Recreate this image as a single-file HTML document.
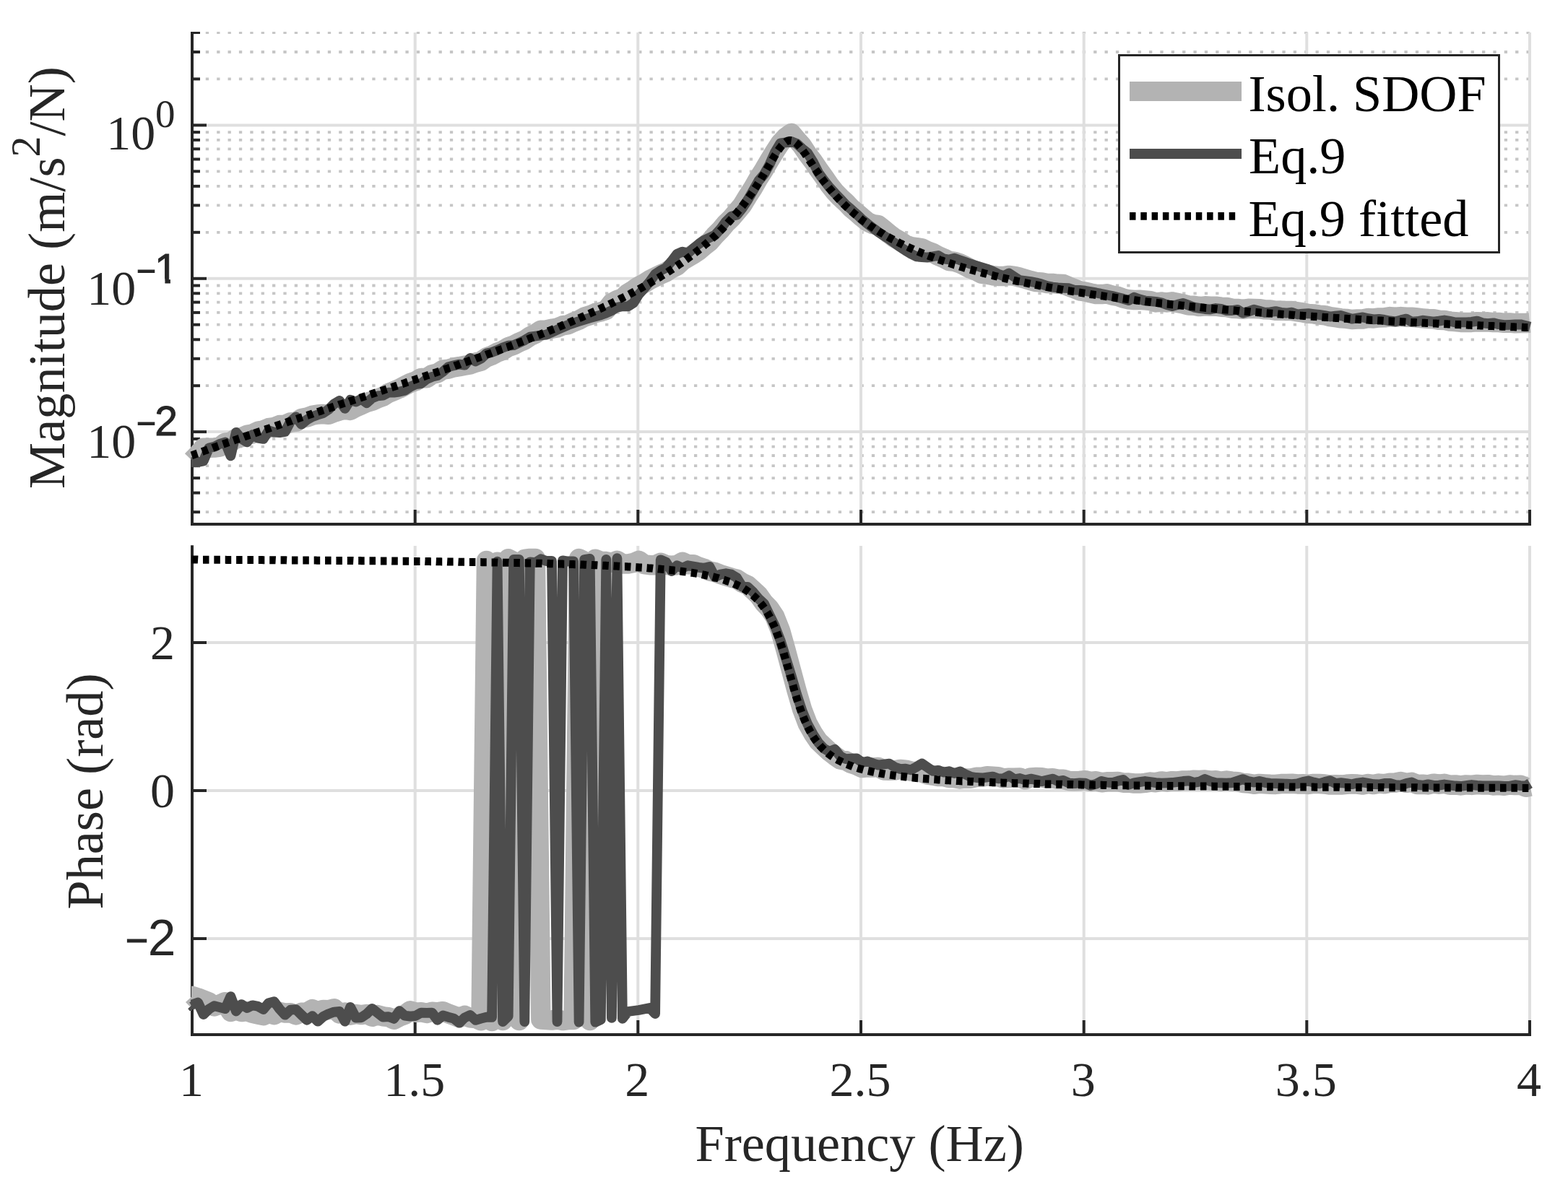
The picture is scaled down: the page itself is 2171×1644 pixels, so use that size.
<!DOCTYPE html>
<html lang="en"><head><meta charset="utf-8"><title>FRF magnitude and phase</title>
<style>html,body{margin:0;padding:0;background:#fff}svg{display:block}.t{font-family:"Liberation Serif","DejaVu Serif",serif;fill:#262626}.s{font-family:"Liberation Sans","DejaVu Sans",sans-serif;fill:#262626}.lg{font-family:"Liberation Serif","DejaVu Serif",serif;fill:#000}</style></head><body>
<svg width="2171" height="1644" viewBox="0 0 2171 1644">
<rect width="2171" height="1644" fill="#fff"/>
<g id="top-grid">
<g stroke="#c6c6c6" stroke-width="3.8" stroke-dasharray="4.3 11.067" fill="none">
<line x1="284.8" y1="709.2" x2="2120" y2="709.2"/>
<line x1="284.8" y1="682.6" x2="2120" y2="682.6"/>
<line x1="284.8" y1="662.1" x2="2120" y2="662.1"/>
<line x1="284.8" y1="645.2" x2="2120" y2="645.2"/>
<line x1="284.8" y1="631.0" x2="2120" y2="631.0"/>
<line x1="284.8" y1="618.7" x2="2120" y2="618.7"/>
<line x1="284.8" y1="607.9" x2="2120" y2="607.9"/>
<line x1="284.8" y1="534.2" x2="2120" y2="534.2"/>
<line x1="284.8" y1="496.8" x2="2120" y2="496.8"/>
<line x1="284.8" y1="470.3" x2="2120" y2="470.3"/>
<line x1="284.8" y1="449.7" x2="2120" y2="449.7"/>
<line x1="284.8" y1="432.9" x2="2120" y2="432.9"/>
<line x1="284.8" y1="418.6" x2="2120" y2="418.6"/>
<line x1="284.8" y1="406.3" x2="2120" y2="406.3"/>
<line x1="284.8" y1="395.5" x2="2120" y2="395.5"/>
<line x1="284.8" y1="321.8" x2="2120" y2="321.8"/>
<line x1="284.8" y1="284.4" x2="2120" y2="284.4"/>
<line x1="284.8" y1="257.9" x2="2120" y2="257.9"/>
<line x1="284.8" y1="237.3" x2="2120" y2="237.3"/>
<line x1="284.8" y1="220.5" x2="2120" y2="220.5"/>
<line x1="284.8" y1="206.3" x2="2120" y2="206.3"/>
<line x1="284.8" y1="193.9" x2="2120" y2="193.9"/>
<line x1="284.8" y1="183.1" x2="2120" y2="183.1"/>
<line x1="284.8" y1="109.4" x2="2120" y2="109.4"/>
<line x1="284.8" y1="72.0" x2="2120" y2="72.0"/>
<line x1="284.8" y1="45.5" x2="2120" y2="45.5" stroke-width="3"/>
</g>
<g stroke="#dfdfdf" stroke-width="4" fill="none">
<line x1="266" y1="598.1" x2="2120" y2="598.1"/>
<line x1="266" y1="385.8" x2="2120" y2="385.8"/>
<line x1="266" y1="173.4" x2="2120" y2="173.4"/>
<line x1="574.7" y1="45" x2="574.7" y2="726"/>
<line x1="883.3" y1="45" x2="883.3" y2="726"/>
<line x1="1192.0" y1="45" x2="1192.0" y2="726"/>
<line x1="1500.7" y1="45" x2="1500.7" y2="726"/>
<line x1="1809.3" y1="45" x2="1809.3" y2="726"/>
<line x1="2118.0" y1="45" x2="2118.0" y2="726"/>
</g></g>
<g id="bot-grid" stroke="#dfdfdf" stroke-width="4" fill="none">
<line x1="266" y1="890.0" x2="2120" y2="890.0"/>
<line x1="266" y1="1095.0" x2="2120" y2="1095.0"/>
<line x1="266" y1="1300.0" x2="2120" y2="1300.0"/>
<line x1="574.7" y1="756" x2="574.7" y2="1433"/>
<line x1="883.3" y1="756" x2="883.3" y2="1433"/>
<line x1="1192.0" y1="756" x2="1192.0" y2="1433"/>
<line x1="1500.7" y1="756" x2="1500.7" y2="1433"/>
<line x1="1809.3" y1="756" x2="1809.3" y2="1433"/>
<line x1="2118.0" y1="756" x2="2118.0" y2="1433"/>
</g>
<g id="top-axes">
<g stroke="#262626" stroke-width="4" fill="none" stroke-linecap="butt">
<line x1="266" y1="45.0" x2="266" y2="728.0"/>
<line x1="264" y1="726.0" x2="2120" y2="726.0"/>
<line x1="574.7" y1="726.0" x2="574.7" y2="706.0"/>
<line x1="883.3" y1="726.0" x2="883.3" y2="706.0"/>
<line x1="1192.0" y1="726.0" x2="1192.0" y2="706.0"/>
<line x1="1500.7" y1="726.0" x2="1500.7" y2="706.0"/>
<line x1="1809.3" y1="726.0" x2="1809.3" y2="706.0"/>
<line x1="2118.0" y1="726.0" x2="2118.0" y2="706.0"/>
<line x1="266" y1="598.1" x2="286" y2="598.1"/>
<line x1="266" y1="385.8" x2="286" y2="385.8"/>
<line x1="266" y1="173.4" x2="286" y2="173.4"/>
<line x1="266" y1="709.2" x2="277" y2="709.2"/>
<line x1="266" y1="682.6" x2="277" y2="682.6"/>
<line x1="266" y1="662.1" x2="277" y2="662.1"/>
<line x1="266" y1="645.2" x2="277" y2="645.2"/>
<line x1="266" y1="631.0" x2="277" y2="631.0"/>
<line x1="266" y1="618.7" x2="277" y2="618.7"/>
<line x1="266" y1="607.9" x2="277" y2="607.9"/>
<line x1="266" y1="534.2" x2="277" y2="534.2"/>
<line x1="266" y1="496.8" x2="277" y2="496.8"/>
<line x1="266" y1="470.3" x2="277" y2="470.3"/>
<line x1="266" y1="449.7" x2="277" y2="449.7"/>
<line x1="266" y1="432.9" x2="277" y2="432.9"/>
<line x1="266" y1="418.6" x2="277" y2="418.6"/>
<line x1="266" y1="406.3" x2="277" y2="406.3"/>
<line x1="266" y1="395.5" x2="277" y2="395.5"/>
<line x1="266" y1="321.8" x2="277" y2="321.8"/>
<line x1="266" y1="284.4" x2="277" y2="284.4"/>
<line x1="266" y1="257.9" x2="277" y2="257.9"/>
<line x1="266" y1="237.3" x2="277" y2="237.3"/>
<line x1="266" y1="220.5" x2="277" y2="220.5"/>
<line x1="266" y1="206.3" x2="277" y2="206.3"/>
<line x1="266" y1="193.9" x2="277" y2="193.9"/>
<line x1="266" y1="183.1" x2="277" y2="183.1"/>
<line x1="266" y1="109.4" x2="277" y2="109.4"/>
<line x1="266" y1="72.0" x2="277" y2="72.0"/>
<line x1="264" y1="45.5" x2="277" y2="45.5" stroke-width="3"/>
</g>
</g>
<g id="bot-axes">
<g stroke="#262626" stroke-width="4" fill="none" stroke-linecap="butt">
<line x1="266" y1="755.3" x2="266" y2="1435.0"/>
<line x1="264" y1="1433.0" x2="2120" y2="1433.0"/>
<line x1="574.7" y1="1433.0" x2="574.7" y2="1413.0"/>
<line x1="883.3" y1="1433.0" x2="883.3" y2="1413.0"/>
<line x1="1192.0" y1="1433.0" x2="1192.0" y2="1413.0"/>
<line x1="1500.7" y1="1433.0" x2="1500.7" y2="1413.0"/>
<line x1="1809.3" y1="1433.0" x2="1809.3" y2="1413.0"/>
<line x1="2118.0" y1="1433.0" x2="2118.0" y2="1413.0"/>
<line x1="266" y1="890.0" x2="286" y2="890.0"/>
<line x1="266" y1="1095.0" x2="286" y2="1095.0"/>
<line x1="266" y1="1300.0" x2="286" y2="1300.0"/>
</g>
</g>
<g id="top-curves">
<polyline points="265.8,637.8 274.1,629.2 281.7,620.3 289.2,620.2 296.7,620.0 304.3,619.1 311.8,613.1 319.4,612.2 326.9,607.2 334.4,605.7 342.0,602.3 349.5,600.9 357.0,597.3 364.6,595.8 372.1,592.7 379.6,591.5 387.2,588.6 394.7,588.2 402.2,585.0 409.8,584.3 417.3,579.5 424.9,578.1 432.4,575.3 439.9,574.0 447.5,573.6 455.0,574.3 462.5,571.2 470.1,569.0 477.6,567.2 485.1,568.4 492.7,564.1 500.2,560.8 507.7,557.5 515.3,555.3 522.8,552.0 530.4,549.1 537.9,544.4 545.4,541.4 553.0,538.2 560.5,534.3 568.0,530.4 575.6,527.8 583.1,523.4 590.6,523.8 598.2,518.6 605.7,516.9 613.2,512.2 620.8,511.1 628.3,508.9 635.9,507.7 643.4,506.3 650.9,505.0 658.5,502.1 666.0,500.1 673.5,495.0 681.1,492.2 688.6,488.2 696.1,485.4 703.7,480.6 711.2,478.2 718.8,474.1 726.3,471.0 733.8,465.9 741.4,462.3 748.9,457.3 756.4,456.9 764.0,455.3 771.5,453.9 779.0,450.9 786.6,449.7 794.1,446.1 801.6,443.2 809.2,439.0 816.7,436.8 824.3,433.5 831.8,431.9 839.3,429.5 846.9,419.6 854.4,415.5 861.9,412.9 869.5,406.0 877.0,401.6 884.5,396.3 892.1,392.3 899.6,387.6 907.1,383.9 914.7,380.2 922.2,376.9 929.8,371.8 937.3,368.1 944.8,361.1 952.4,356.7 959.9,352.2 967.4,347.3 975.0,340.6 982.5,334.8 990.0,326.0 997.6,318.3 1005.1,309.4 1012.6,302.2 1020.2,293.2 1027.7,284.2 1035.3,271.6 1042.8,260.0 1050.3,246.8 1057.9,234.8 1065.4,222.0 1072.9,209.8 1080.5,198.1 1088.0,190.0 1095.5,184.5 1103.1,193.4 1110.6,202.1 1118.1,213.5 1125.7,223.4 1133.2,234.5 1140.8,245.0 1148.3,256.0 1155.8,265.5 1163.4,273.4 1170.9,280.2 1178.4,288.2 1186.0,294.5 1193.5,301.0 1201.0,307.2 1208.6,310.6 1216.1,311.7 1223.7,317.8 1231.2,324.1 1238.7,329.7 1246.3,333.8 1253.8,338.9 1261.3,341.7 1268.9,342.6 1276.4,343.8 1283.9,347.6 1291.5,350.2 1299.0,354.4 1306.5,357.6 1314.1,361.5 1321.6,362.4 1329.2,364.9 1336.7,368.5 1344.2,372.5 1351.8,375.4 1359.3,379.4 1366.8,380.0 1374.4,381.7 1381.9,382.4 1389.4,382.6 1397.0,381.4 1404.5,382.3 1412.0,384.2 1419.6,386.4 1427.1,388.6 1434.7,390.6 1442.2,390.9 1449.7,392.5 1457.3,392.5 1464.8,393.3 1472.3,393.5 1479.9,396.9 1487.4,399.8 1494.9,402.8 1502.5,404.0 1510.0,405.9 1517.5,407.5 1525.1,407.6 1532.6,406.8 1540.2,409.2 1547.7,410.3 1555.2,413.1 1562.8,414.8 1570.3,415.5 1577.8,415.2 1585.4,415.9 1592.9,416.7 1600.4,418.9 1608.0,418.2 1615.5,418.9 1623.0,418.0 1630.6,419.5 1638.1,420.9 1645.7,423.0 1653.2,423.3 1660.7,424.6 1668.3,423.8 1675.8,424.3 1683.3,424.2 1690.9,425.2 1698.4,425.5 1705.9,427.2 1713.5,427.5 1721.0,428.3 1728.5,427.3 1736.1,427.4 1743.6,427.7 1751.2,428.8 1758.7,428.9 1766.2,430.3 1773.8,430.1 1781.3,430.6 1788.8,430.6 1796.4,431.8 1803.9,432.9 1811.4,434.4 1819.0,434.9 1826.5,436.1 1834.1,436.7 1841.6,438.6 1849.1,439.7 1856.7,440.9 1864.2,441.4 1871.7,442.5 1879.3,442.0 1886.8,442.1 1894.3,440.6 1901.9,440.9 1909.4,439.9 1916.9,439.8 1924.5,438.6 1932.0,439.3 1939.6,438.6 1947.1,439.2 1954.6,439.3 1962.2,440.0 1969.7,440.8 1977.2,441.5 1984.8,441.7 1992.3,443.3 1999.8,443.4 2007.4,445.1 2014.9,445.6 2022.4,446.4 2030.0,446.4 2037.5,446.4 2045.1,445.7 2052.6,445.9 2060.1,445.8 2067.7,446.6 2075.2,446.5 2082.7,447.3 2090.3,447.0 2097.8,447.7 2105.3,447.4 2112.9,447.5 2118.0,447.0" fill="none" stroke="#b3b3b3" stroke-width="27.5" stroke-linejoin="round" stroke-linecap="butt"/>
<polyline points="264.5,640.1 266.6,640.1 274.1,640.1 281.7,638.4 289.2,620.5 296.7,618.8 304.3,614.8 311.8,612.5 319.4,631.4 326.9,598.8 334.4,607.9 342.0,612.4 349.5,602.1 357.0,606.7 364.6,607.9 372.1,596.4 379.6,598.7 387.2,599.2 394.7,598.0 402.2,583.7 409.8,577.4 417.3,587.7 424.9,581.4 432.4,577.3 439.9,574.5 447.5,572.1 455.0,567.0 462.5,559.5 470.1,554.9 477.6,565.8 485.1,553.8 492.7,556.6 500.2,552.7 507.7,558.1 515.3,551.3 522.8,548.3 530.4,547.7 537.9,543.7 545.4,543.7 553.0,542.6 560.5,540.8 568.0,535.7 575.6,532.2 583.1,531.1 590.6,525.3 598.2,521.9 605.7,520.1 613.2,514.9 620.8,508.1 628.3,506.3 635.9,504.6 643.4,505.7 650.9,496.0 658.5,500.5 666.0,496.6 673.5,489.6 681.1,487.9 688.6,485.0 696.1,481.5 703.7,478.7 711.2,478.1 718.8,474.7 726.3,471.2 733.8,466.6 741.4,465.5 748.9,464.5 756.4,463.5 764.0,460.1 771.5,456.8 779.0,453.4 786.6,450.1 794.1,447.5 801.6,445.0 809.2,442.6 816.7,440.3 824.3,438.3 831.8,436.3 839.3,433.5 846.9,430.2 854.4,425.7 861.9,424.3 869.5,424.3 877.0,419.7 884.5,407.7 892.1,399.1 899.6,390.3 907.1,379.8 914.7,374.6 922.2,370.8 929.8,361.8 937.3,351.8 944.8,348.6 952.4,350.7 959.9,344.1 967.4,338.0 975.0,332.7 982.5,329.1 990.0,325.6 997.6,317.2 1005.1,306.9 1012.6,299.6 1020.2,297.6 1027.7,288.3 1035.3,276.9 1042.8,263.9 1050.3,250.5 1057.9,241.5 1065.4,228.0 1072.9,211.0 1080.5,198.3 1088.0,197.4 1095.5,195.9 1103.1,198.9 1110.6,205.9 1118.1,211.9 1125.7,224.1 1133.2,239.4 1140.8,249.8 1148.3,259.2 1155.8,267.5 1163.4,275.4 1170.9,283.4 1178.4,289.8 1186.0,296.6 1193.5,303.7 1201.0,309.9 1208.6,315.9 1216.1,321.4 1223.7,326.4 1231.2,331.3 1238.7,336.7 1246.3,342.1 1253.8,347.1 1261.3,351.6 1268.9,355.4 1276.4,356.0 1283.9,356.6 1291.5,355.3 1299.0,354.0 1306.5,358.4 1314.1,359.5 1321.6,357.6 1329.2,360.4 1336.7,363.1 1344.2,365.7 1351.8,368.0 1359.3,370.3 1366.8,372.5 1374.4,375.7 1381.9,379.5 1389.4,382.3 1397.0,378.4 1404.5,383.4 1412.0,388.2 1419.6,389.0 1427.1,390.0 1434.7,391.5 1442.2,393.5 1449.7,396.1 1457.3,397.6 1464.8,398.4 1472.3,398.8 1479.9,399.2 1487.4,401.7 1494.9,401.8 1502.5,402.7 1510.0,404.1 1517.5,405.4 1525.1,406.9 1532.6,408.4 1540.2,410.0 1547.7,411.9 1555.2,413.8 1562.8,416.0 1570.3,411.7 1577.8,414.4 1585.4,416.5 1592.9,417.2 1600.4,417.8 1608.0,419.3 1615.5,422.1 1623.0,424.0 1630.6,421.8 1638.1,419.9 1645.7,422.8 1653.2,425.6 1660.7,426.9 1668.3,428.0 1675.8,428.6 1683.3,427.0 1690.9,427.8 1698.4,430.2 1705.9,430.0 1713.5,428.9 1721.0,433.6 1728.5,431.5 1736.1,428.7 1743.6,430.6 1751.2,432.8 1758.7,432.3 1766.2,431.1 1773.8,432.8 1781.3,433.7 1788.8,432.6 1796.4,435.4 1803.9,434.6 1811.4,434.2 1819.0,435.1 1826.5,435.9 1834.1,437.1 1841.6,438.6 1849.1,437.6 1856.7,437.0 1864.2,439.4 1871.7,441.7 1879.3,440.5 1886.8,439.4 1894.3,441.2 1901.9,442.3 1909.4,441.8 1916.9,442.9 1924.5,444.4 1932.0,445.3 1939.6,443.3 1947.1,441.6 1954.6,445.7 1962.2,445.2 1969.7,443.7 1977.2,444.5 1984.8,445.5 1992.3,444.6 1999.8,443.5 2007.4,444.8 2014.9,446.4 2022.4,446.4 2030.0,446.4 2037.5,445.9 2045.1,444.6 2052.6,447.3 2060.1,448.2 2067.7,447.3 2075.2,449.2 2082.7,450.2 2090.3,449.8 2097.8,449.5 2105.3,449.3 2112.9,451.1 2118.5,452.6" fill="none" stroke="#4d4d4d" stroke-width="13.8" stroke-linejoin="round" stroke-linecap="butt"/>
<polyline points="264.5,631.1 266.0,630.6 267.5,630.0 269.1,629.5 270.6,628.9 272.2,628.3 273.7,627.8 275.3,627.2 276.8,626.7 278.3,626.1 279.9,625.6 281.4,625.0 283.0,624.4 284.5,623.9 286.1,623.3 287.6,622.8 289.2,622.2 290.7,621.7 292.2,621.1 293.8,620.6 295.3,620.0 296.9,619.5 298.4,618.9 300.0,618.4 301.5,617.8 303.0,617.3 304.6,616.7 306.1,616.2 307.7,615.6 309.2,615.1 310.8,614.5 312.3,614.0 313.8,613.5 315.4,612.9 316.9,612.4 318.5,611.8 320.0,611.3 321.6,610.7 323.1,610.2 324.6,609.7 326.2,609.1 327.7,608.6 329.3,608.1 330.8,607.5 332.4,607.0 333.9,606.4 335.5,605.9 337.0,605.4 338.5,604.8 340.1,604.3 341.6,603.8 343.2,603.2 344.7,602.7 346.3,602.2 347.8,601.6 349.3,601.1 350.9,600.6 352.4,600.0 354.0,599.5 355.5,599.0 357.1,598.5 358.6,597.9 360.1,597.4 361.7,596.9 363.2,596.3 364.8,595.8 366.3,595.3 367.9,594.8 369.4,594.2 370.9,593.7 372.5,593.2 374.0,592.7 375.6,592.1 377.1,591.6 378.7,591.1 380.2,590.6 381.8,590.0 383.3,589.5 384.8,589.0 386.4,588.5 387.9,588.0 389.5,587.4 391.0,586.9 392.6,586.4 394.1,585.9 395.6,585.4 397.2,584.8 398.7,584.3 400.3,583.8 401.8,583.3 403.4,582.8 404.9,582.2 406.4,581.7 408.0,581.2 409.5,580.7 411.1,580.2 412.6,579.7 414.2,579.1 415.7,578.6 417.2,578.1 418.8,577.6 420.3,577.1 421.9,576.6 423.4,576.0 425.0,575.5 426.5,575.0 428.0,574.5 429.6,574.0 431.1,573.5 432.7,573.0 434.2,572.4 435.8,571.9 437.3,571.4 438.9,570.9 440.4,570.4 441.9,569.9 443.5,569.4 445.0,568.8 446.6,568.3 448.1,567.8 449.7,567.3 451.2,566.8 452.7,566.3 454.3,565.8 455.8,565.3 457.4,564.7 458.9,564.2 460.5,563.7 462.0,563.2 463.5,562.7 465.1,562.2 466.6,561.7 468.2,561.2 469.7,560.6 471.3,560.1 472.8,559.6 474.3,559.1 475.9,558.6 477.4,558.1 479.0,557.6 480.5,557.1 482.1,556.6 483.6,556.0 485.2,555.5 486.7,555.0 488.2,554.5 489.8,554.0 491.3,553.5 492.9,553.0 494.4,552.5 496.0,551.9 497.5,551.4 499.0,550.9 500.6,550.4 502.1,549.9 503.7,549.4 505.2,548.9 506.8,548.4 508.3,547.9 509.8,547.3 511.4,546.8 512.9,546.3 514.5,545.8 516.0,545.3 517.6,544.8 519.1,544.3 520.7,543.8 522.2,543.2 523.7,542.7 525.3,542.2 526.8,541.7 528.4,541.2 529.9,540.7 531.5,540.2 533.0,539.6 534.5,539.1 536.1,538.6 537.6,538.1 539.2,537.6 540.7,537.1 542.3,536.6 543.8,536.0 545.3,535.5 546.9,535.0 548.4,534.5 550.0,534.0 551.5,533.5 553.1,532.9 554.6,532.4 556.1,531.9 557.7,531.4 559.2,530.9 560.8,530.4 562.3,529.8 563.9,529.3 565.4,528.8 567.0,528.3 568.5,527.8 570.0,527.2 571.6,526.7 573.1,526.2 574.7,525.7 576.2,525.2 577.8,524.6 579.3,524.1 580.8,523.6 582.4,523.1 583.9,522.5 585.5,522.0 587.0,521.5 588.6,521.0 590.1,520.4 591.6,519.9 593.2,519.4 594.7,518.9 596.3,518.3 597.8,517.8 599.4,517.3 600.9,516.8 602.4,516.2 604.0,515.7 605.5,515.2 607.1,514.6 608.6,514.1 610.2,513.6 611.7,513.1 613.2,512.5 614.8,512.0 616.3,511.5 617.9,510.9 619.4,510.4 621.0,509.9 622.5,509.3 624.1,508.8 625.6,508.3 627.1,507.7 628.7,507.2 630.2,506.6 631.8,506.1 633.3,505.6 634.9,505.0 636.4,504.5 637.9,503.9 639.5,503.4 641.0,502.9 642.6,502.3 644.1,501.8 645.7,501.2 647.2,500.7 648.7,500.1 650.3,499.6 651.8,499.1 653.4,498.5 654.9,498.0 656.5,497.4 658.0,496.9 659.5,496.3 661.1,495.8 662.6,495.2 664.2,494.7 665.7,494.1 667.3,493.6 668.8,493.0 670.4,492.4 671.9,491.9 673.4,491.3 675.0,490.8 676.5,490.2 678.1,489.7 679.6,489.1 681.2,488.5 682.7,488.0 684.2,487.4 685.8,486.8 687.3,486.3 688.9,485.7 690.4,485.1 692.0,484.6 693.5,484.0 695.0,483.4 696.6,482.9 698.1,482.3 699.7,481.7 701.2,481.1 702.8,480.6 704.3,480.0 705.8,479.4 707.4,478.8 708.9,478.3 710.5,477.7 712.0,477.1 713.6,476.5 715.1,475.9 716.7,475.3 718.2,474.8 719.7,474.2 721.3,473.6 722.8,473.0 724.4,472.4 725.9,471.8 727.5,471.2 729.0,470.6 730.5,470.0 732.1,469.4 733.6,468.8 735.2,468.2 736.7,467.6 738.3,467.0 739.8,466.4 741.3,465.8 742.9,465.2 744.4,464.6 746.0,464.0 747.5,463.4 749.1,462.8 750.6,462.1 752.2,461.5 753.7,460.9 755.2,460.3 756.8,459.7 758.3,459.1 759.9,458.4 761.4,457.8 763.0,457.2 764.5,456.5 766.0,455.9 767.6,455.3 769.1,454.7 770.7,454.0 772.2,453.4 773.8,452.7 775.3,452.1 776.8,451.5 778.4,450.8 779.9,450.2 781.5,449.5 783.0,448.9 784.6,448.2 786.1,447.6 787.6,446.9 789.2,446.2 790.7,445.6 792.3,444.9 793.8,444.3 795.4,443.6 796.9,442.9 798.5,442.3 800.0,441.6 801.5,440.9 803.1,440.2 804.6,439.6 806.2,438.9 807.7,438.2 809.3,437.5 810.8,436.8 812.3,436.1 813.9,435.4 815.4,434.7 817.0,434.0 818.5,433.3 820.1,432.6 821.6,431.9 823.1,431.2 824.7,430.5 826.2,429.8 827.8,429.1 829.3,428.4 830.9,427.6 832.4,426.9 833.9,426.2 835.5,425.5 837.0,424.7 838.6,424.0 840.1,423.3 841.7,422.5 843.2,421.8 844.8,421.0 846.3,420.3 847.8,419.5 849.4,418.8 850.9,418.0 852.5,417.2 854.0,416.5 855.6,415.7 857.1,414.9 858.6,414.1 860.2,413.4 861.7,412.6 863.3,411.8 864.8,411.0 866.4,410.2 867.9,409.4 869.4,408.6 871.0,407.8 872.5,407.0 874.1,406.2 875.6,405.3 877.2,404.5 878.7,403.7 880.2,402.9 881.8,402.0 883.3,401.2 884.9,400.3 886.4,399.5 888.0,398.6 889.5,397.8 891.1,396.9 892.6,396.0 894.1,395.2 895.7,394.3 897.2,393.4 898.8,392.5 900.3,391.6 901.9,390.7 903.4,389.8 904.9,388.9 906.5,388.0 908.0,387.1 909.6,386.1 911.1,385.2 912.7,384.3 914.2,383.3 915.7,382.4 917.3,381.4 918.8,380.5 920.4,379.5 921.9,378.5 923.5,377.5 925.0,376.5 926.5,375.5 928.1,374.5 929.6,373.5 931.2,372.5 932.7,371.5 934.3,370.5 935.8,369.4 937.3,368.4 938.9,367.3 940.4,366.2 942.0,365.2 943.5,364.1 945.1,363.0 946.6,361.9 948.2,360.8 949.7,359.7 951.2,358.6 952.8,357.4 954.3,356.3 955.9,355.1 957.4,354.0 959.0,352.8 960.5,351.6 962.0,350.4 963.6,349.2 965.1,348.0 966.7,346.8 968.2,345.5 969.8,344.3 971.3,343.0 972.8,341.7 974.4,340.4 975.9,339.1 977.5,337.8 979.0,336.5 980.6,335.1 982.1,333.8 983.7,332.4 985.2,331.0 986.7,329.6 988.3,328.2 989.8,326.8 991.4,325.3 992.9,323.9 994.5,322.4 996.0,320.9 997.5,319.4 999.1,317.8 1000.6,316.3 1002.2,314.7 1003.7,313.1 1005.3,311.5 1006.8,309.9 1008.3,308.2 1009.9,306.5 1011.4,304.8 1013.0,303.1 1014.5,301.4 1016.1,299.6 1017.6,297.8 1019.1,296.0 1020.7,294.2 1022.2,292.3 1023.8,290.4 1025.3,288.5 1026.9,286.5 1028.4,284.6 1029.9,282.5 1031.5,280.5 1033.0,278.4 1034.6,276.3 1036.1,274.2 1037.7,272.0 1039.2,269.9 1040.8,267.6 1042.3,265.4 1043.8,263.1 1045.4,260.7 1046.9,258.4 1048.5,256.0 1050.0,253.6 1051.6,251.1 1053.1,248.6 1054.6,246.1 1056.2,243.5 1057.7,241.0 1059.3,238.4 1060.8,235.8 1062.4,233.1 1063.9,230.5 1065.4,227.9 1067.0,225.2 1068.5,222.6 1070.1,220.0 1071.6,217.4 1073.2,214.9 1074.7,212.5 1076.2,210.1 1077.8,207.8 1079.3,205.6 1080.9,203.6 1082.4,201.7 1084.0,200.0 1085.5,198.5 1087.1,197.2 1088.6,196.1 1090.1,195.3 1091.7,194.8 1093.2,194.5 1094.8,194.5 1096.3,194.7 1097.9,195.2 1099.4,196.0 1100.9,197.0 1102.5,198.2 1104.0,199.6 1105.6,201.2 1107.1,202.9 1108.7,204.8 1110.2,206.8 1111.7,208.8 1113.3,211.0 1114.8,213.2 1116.4,215.5 1117.9,217.8 1119.5,220.1 1121.0,222.5 1122.6,224.8 1124.1,227.1 1125.6,229.5 1127.2,231.8 1128.7,234.1 1130.3,236.4 1131.8,238.6 1133.4,240.8 1134.9,243.0 1136.4,245.2 1138.0,247.3 1139.5,249.4 1141.1,251.5 1142.6,253.5 1144.2,255.5 1145.7,257.5 1147.2,259.4 1148.8,261.3 1150.3,263.2 1151.9,265.0 1153.4,266.8 1155.0,268.6 1156.5,270.4 1158.0,272.1 1159.6,273.8 1161.1,275.4 1162.7,277.0 1164.2,278.6 1165.8,280.2 1167.3,281.8 1168.8,283.3 1170.4,284.8 1171.9,286.2 1173.5,287.7 1175.0,289.1 1176.6,290.5 1178.1,291.9 1179.7,293.2 1181.2,294.6 1182.7,295.9 1184.3,297.2 1185.8,298.5 1187.4,299.7 1188.9,301.0 1190.5,302.2 1192.0,303.4 1193.5,304.6 1195.1,305.7 1196.6,306.9 1198.2,308.0 1199.7,309.1 1201.3,310.2 1202.8,311.3 1204.3,312.4 1205.9,313.5 1207.4,314.5 1209.0,315.5 1210.5,316.6 1212.1,317.6 1213.6,318.6 1215.2,319.5 1216.7,320.5 1218.2,321.5 1219.8,322.4 1221.3,323.3 1222.9,324.2 1224.4,325.2 1226.0,326.0 1227.5,326.9 1229.0,327.8 1230.6,328.7 1232.1,329.5 1233.7,330.4 1235.2,331.2 1236.8,332.0 1238.3,332.9 1239.8,333.7 1241.4,334.5 1242.9,335.3 1244.5,336.0 1246.0,336.8 1247.6,337.6 1249.1,338.3 1250.6,339.1 1252.2,339.8 1253.7,340.6 1255.3,341.3 1256.8,342.0 1258.4,342.7 1259.9,343.4 1261.4,344.1 1263.0,344.8 1264.5,345.5 1266.1,346.2 1267.6,346.8 1269.2,347.5 1270.7,348.1 1272.3,348.8 1273.8,349.4 1275.3,350.1 1276.9,350.7 1278.4,351.3 1280.0,351.9 1281.5,352.6 1283.1,353.2 1284.6,353.8 1286.1,354.4 1287.7,355.0 1289.2,355.5 1290.8,356.1 1292.3,356.7 1293.9,357.3 1295.4,357.8 1296.9,358.4 1298.5,359.0 1300.0,359.5 1301.6,360.1 1303.1,360.6 1304.7,361.1 1306.2,361.7 1307.8,362.2 1309.3,362.7 1310.8,363.2 1312.4,363.8 1313.9,364.3 1315.5,364.8 1317.0,365.3 1318.6,365.8 1320.1,366.3 1321.6,366.8 1323.2,367.2 1324.7,367.7 1326.3,368.2 1327.8,368.7 1329.4,369.2 1330.9,369.6 1332.4,370.1 1334.0,370.6 1335.5,371.0 1337.1,371.5 1338.6,371.9 1340.2,372.4 1341.7,372.8 1343.2,373.3 1344.8,373.7 1346.3,374.1 1347.9,374.6 1349.4,375.0 1351.0,375.4 1352.5,375.8 1354.1,376.3 1355.6,376.7 1357.1,377.1 1358.7,377.5 1360.2,377.9 1361.8,378.3 1363.3,378.7 1364.9,379.1 1366.4,379.5 1367.9,379.9 1369.5,380.3 1371.0,380.7 1372.6,381.1 1374.1,381.4 1375.7,381.8 1377.2,382.2 1378.7,382.6 1380.3,382.9 1381.8,383.3 1383.4,383.7 1384.9,384.0 1386.5,384.4 1388.0,384.8 1389.5,385.1 1391.1,385.5 1392.6,385.8 1394.2,386.2 1395.7,386.5 1397.3,386.9 1398.8,387.2 1400.3,387.6 1401.9,387.9 1403.4,388.3 1405.0,388.6 1406.5,388.9 1408.1,389.3 1409.6,389.6 1411.2,389.9 1412.7,390.2 1414.2,390.6 1415.8,390.9 1417.3,391.2 1418.9,391.5 1420.4,391.8 1422.0,392.2 1423.5,392.5 1425.0,392.8 1426.6,393.1 1428.1,393.4 1429.7,393.7 1431.2,394.0 1432.8,394.3 1434.3,394.6 1435.8,394.9 1437.4,395.2 1438.9,395.5 1440.5,395.8 1442.0,396.1 1443.6,396.4 1445.1,396.7 1446.7,396.9 1448.2,397.2 1449.7,397.5 1451.3,397.8 1452.8,398.1 1454.4,398.4 1455.9,398.6 1457.5,398.9 1459.0,399.2 1460.5,399.5 1462.1,399.7 1463.6,400.0 1465.2,400.3 1466.7,400.5 1468.3,400.8 1469.8,401.1 1471.3,401.3 1472.9,401.6 1474.4,401.8 1476.0,402.1 1477.5,402.4 1479.1,402.6 1480.6,402.9 1482.1,403.1 1483.7,403.4 1485.2,403.6 1486.8,403.9 1488.3,404.1 1489.9,404.4 1491.4,404.6 1492.9,404.9 1494.5,405.1 1496.0,405.3 1497.6,405.6 1499.1,405.8 1500.7,406.1 1502.2,406.3 1503.8,406.5 1505.3,406.8 1506.8,407.0 1508.4,407.2 1509.9,407.5 1511.5,407.7 1513.0,407.9 1514.6,408.1 1516.1,408.4 1517.6,408.6 1519.2,408.8 1520.7,409.0 1522.3,409.3 1523.8,409.5 1525.4,409.7 1526.9,409.9 1528.4,410.1 1530.0,410.4 1531.5,410.6 1533.1,410.8 1534.6,411.0 1536.2,411.2 1537.7,411.4 1539.2,411.6 1540.8,411.8 1542.3,412.0 1543.9,412.3 1545.4,412.5 1547.0,412.7 1548.5,412.9 1550.1,413.1 1551.6,413.3 1553.1,413.5 1554.7,413.7 1556.2,413.9 1557.8,414.1 1559.3,414.3 1560.9,414.5 1562.4,414.7 1563.9,414.9 1565.5,415.1 1567.0,415.3 1568.6,415.4 1570.1,415.6 1571.7,415.8 1573.2,416.0 1574.7,416.2 1576.3,416.4 1577.8,416.6 1579.4,416.8 1580.9,417.0 1582.5,417.1 1584.0,417.3 1585.6,417.5 1587.1,417.7 1588.6,417.9 1590.2,418.1 1591.7,418.2 1593.3,418.4 1594.8,418.6 1596.4,418.8 1597.9,419.0 1599.4,419.1 1601.0,419.3 1602.5,419.5 1604.1,419.7 1605.6,419.8 1607.2,420.0 1608.7,420.2 1610.2,420.3 1611.8,420.5 1613.3,420.7 1614.9,420.9 1616.4,421.0 1618.0,421.2 1619.5,421.4 1621.0,421.5 1622.6,421.7 1624.1,421.9 1625.7,422.0 1627.2,422.2 1628.8,422.4 1630.3,422.5 1631.9,422.7 1633.4,422.8 1634.9,423.0 1636.5,423.2 1638.0,423.3 1639.6,423.5 1641.1,423.6 1642.7,423.8 1644.2,423.9 1645.7,424.1 1647.3,424.3 1648.8,424.4 1650.4,424.6 1651.9,424.7 1653.5,424.9 1655.0,425.0 1656.5,425.2 1658.1,425.3 1659.6,425.5 1661.2,425.6 1662.7,425.8 1664.3,425.9 1665.8,426.1 1667.3,426.2 1668.9,426.4 1670.4,426.5 1672.0,426.7 1673.5,426.8 1675.1,427.0 1676.6,427.1 1678.1,427.2 1679.7,427.4 1681.2,427.5 1682.8,427.7 1684.3,427.8 1685.9,428.0 1687.4,428.1 1689.0,428.2 1690.5,428.4 1692.0,428.5 1693.6,428.7 1695.1,428.8 1696.7,428.9 1698.2,429.1 1699.8,429.2 1701.3,429.3 1702.8,429.5 1704.4,429.6 1705.9,429.7 1707.5,429.9 1709.0,430.0 1710.6,430.1 1712.1,430.3 1713.6,430.4 1715.2,430.5 1716.7,430.7 1718.3,430.8 1719.8,430.9 1721.4,431.1 1722.9,431.2 1724.4,431.3 1726.0,431.4 1727.5,431.6 1729.1,431.7 1730.6,431.8 1732.2,432.0 1733.7,432.1 1735.3,432.2 1736.8,432.3 1738.3,432.5 1739.9,432.6 1741.4,432.7 1743.0,432.8 1744.5,432.9 1746.1,433.1 1747.6,433.2 1749.1,433.3 1750.7,433.4 1752.2,433.6 1753.8,433.7 1755.3,433.8 1756.9,433.9 1758.4,434.0 1759.9,434.1 1761.5,434.3 1763.0,434.4 1764.6,434.5 1766.1,434.6 1767.7,434.7 1769.2,434.9 1770.8,435.0 1772.3,435.1 1773.8,435.2 1775.4,435.3 1776.9,435.4 1778.5,435.5 1780.0,435.7 1781.6,435.8 1783.1,435.9 1784.6,436.0 1786.2,436.1 1787.7,436.2 1789.3,436.3 1790.8,436.4 1792.4,436.5 1793.9,436.7 1795.4,436.8 1797.0,436.9 1798.5,437.0 1800.1,437.1 1801.6,437.2 1803.2,437.3 1804.7,437.4 1806.2,437.5 1807.8,437.6 1809.3,437.7 1810.9,437.8 1812.4,437.9 1814.0,438.1 1815.5,438.2 1817.1,438.3 1818.6,438.4 1820.1,438.5 1821.7,438.6 1823.2,438.7 1824.8,438.8 1826.3,438.9 1827.9,439.0 1829.4,439.1 1830.9,439.2 1832.5,439.3 1834.0,439.4 1835.6,439.5 1837.1,439.6 1838.7,439.7 1840.2,439.8 1841.7,439.9 1843.3,440.0 1844.8,440.1 1846.4,440.2 1847.9,440.3 1849.5,440.4 1851.0,440.5 1852.5,440.6 1854.1,440.7 1855.6,440.8 1857.2,440.9 1858.7,441.0 1860.3,441.1 1861.8,441.2 1863.4,441.2 1864.9,441.3 1866.4,441.4 1868.0,441.5 1869.5,441.6 1871.1,441.7 1872.6,441.8 1874.2,441.9 1875.7,442.0 1877.2,442.1 1878.8,442.2 1880.3,442.3 1881.9,442.4 1883.4,442.5 1885.0,442.6 1886.5,442.6 1888.0,442.7 1889.6,442.8 1891.1,442.9 1892.7,443.0 1894.2,443.1 1895.8,443.2 1897.3,443.3 1898.8,443.4 1900.4,443.4 1901.9,443.5 1903.5,443.6 1905.0,443.7 1906.6,443.8 1908.1,443.9 1909.6,444.0 1911.2,444.1 1912.7,444.1 1914.3,444.2 1915.8,444.3 1917.4,444.4 1918.9,444.5 1920.5,444.6 1922.0,444.7 1923.5,444.7 1925.1,444.8 1926.6,444.9 1928.2,445.0 1929.7,445.1 1931.3,445.2 1932.8,445.2 1934.3,445.3 1935.9,445.4 1937.4,445.5 1939.0,445.6 1940.5,445.7 1942.1,445.7 1943.6,445.8 1945.1,445.9 1946.7,446.0 1948.2,446.1 1949.8,446.1 1951.3,446.2 1952.9,446.3 1954.4,446.4 1955.9,446.5 1957.5,446.5 1959.0,446.6 1960.6,446.7 1962.1,446.8 1963.7,446.9 1965.2,446.9 1966.8,447.0 1968.3,447.1 1969.8,447.2 1971.4,447.2 1972.9,447.3 1974.5,447.4 1976.0,447.5 1977.6,447.5 1979.1,447.6 1980.6,447.7 1982.2,447.8 1983.7,447.9 1985.3,447.9 1986.8,448.0 1988.4,448.1 1989.9,448.2 1991.4,448.2 1993.0,448.3 1994.5,448.4 1996.1,448.4 1997.6,448.5 1999.2,448.6 2000.7,448.7 2002.2,448.7 2003.8,448.8 2005.3,448.9 2006.9,449.0 2008.4,449.0 2010.0,449.1 2011.5,449.2 2013.1,449.2 2014.6,449.3 2016.1,449.4 2017.7,449.5 2019.2,449.5 2020.8,449.6 2022.3,449.7 2023.9,449.7 2025.4,449.8 2026.9,449.9 2028.5,450.0 2030.0,450.0 2031.6,450.1 2033.1,450.2 2034.7,450.2 2036.2,450.3 2037.7,450.4 2039.3,450.4 2040.8,450.5 2042.4,450.6 2043.9,450.6 2045.5,450.7 2047.0,450.8 2048.6,450.8 2050.1,450.9 2051.6,451.0 2053.2,451.0 2054.7,451.1 2056.3,451.2 2057.8,451.2 2059.4,451.3 2060.9,451.4 2062.4,451.4 2064.0,451.5 2065.5,451.6 2067.1,451.6 2068.6,451.7 2070.2,451.8 2071.7,451.8 2073.2,451.9 2074.8,452.0 2076.3,452.0 2077.9,452.1 2079.4,452.2 2081.0,452.2 2082.5,452.3 2084.0,452.3 2085.6,452.4 2087.1,452.5 2088.7,452.5 2090.2,452.6 2091.8,452.7 2093.3,452.7 2094.9,452.8 2096.4,452.8 2097.9,452.9 2099.5,453.0 2101.0,453.0 2102.6,453.1 2104.1,453.2 2105.7,453.2 2107.2,453.3 2108.7,453.3 2110.3,453.4 2111.8,453.5 2113.4,453.5 2114.9,453.6 2116.5,453.6 2118.0,453.7" fill="none" stroke="#000" stroke-width="11" stroke-linejoin="round" stroke-linecap="butt" stroke-dasharray="8.5 6.885" stroke-dashoffset="-0.9"/>
</g>
<g id="bot-curves">
<polygon points="265.5,1380.2 257,1388 262.5,1393.7 266,1392.5" fill="#b3b3b3"/>
<polyline points="265.0,1379.6 266.6,1379.6 274.1,1382.0 281.7,1384.8 289.2,1388.0 296.7,1393.8 304.3,1391.0 311.8,1387.7 319.4,1401.4 326.9,1398.9 334.4,1401.5 342.0,1400.6 349.5,1403.4 357.0,1405.0 364.6,1406.7 372.1,1403.3 379.6,1405.6 387.2,1401.5 394.7,1403.0 402.2,1402.7 409.8,1405.9 417.3,1402.3 424.9,1401.9 432.4,1397.7 439.9,1401.4 447.5,1398.4 455.0,1398.8 462.5,1396.8 470.1,1403.9 477.6,1402.0 485.1,1406.2 492.7,1404.5 500.2,1405.6 507.7,1404.5 515.3,1408.3 522.8,1405.6 530.4,1407.8 537.9,1408.6 545.4,1412.2 553.0,1408.3 560.5,1405.4 568.0,1399.8 575.6,1402.2 583.1,1401.8 590.6,1403.4 598.2,1401.3 605.7,1401.9 613.2,1400.7 620.8,1403.9 628.3,1406.7 635.9,1409.5 643.4,1406.3 650.9,1409.9 658.5,1410.6 666.0,1413.7 673.5,776.6 681.1,1414.5 688.6,778.3 696.1,1413.5 703.7,773.8 711.2,777.5 718.8,1413.5 726.3,774.5 733.8,773.5 741.4,773.5 748.9,1412.0 756.4,1412.5 764.0,1413.0 771.5,1412.0 779.0,1413.5 786.6,1412.5 794.1,1412.5 801.6,773.5 809.2,777.3 816.7,1413.5 824.3,774.3 831.8,777.3 839.3,777.6 846.9,779.2 854.4,776.3 861.9,780.9 869.5,781.1 877.0,779.6 884.5,776.3 892.1,781.7 899.6,782.7 907.1,782.8 914.7,779.3 922.2,782.4 929.8,783.3 937.3,782.7 944.8,778.3 952.4,781.8 959.9,781.7 967.4,785.0 975.0,787.3 982.5,791.0 990.0,792.5 997.6,795.5 1005.1,797.9 1012.6,800.2 1020.2,802.1 1027.7,807.2 1035.3,810.5 1042.8,817.4 1050.3,824.3 1057.9,835.1 1065.4,842.9 1072.9,854.2 1080.5,873.5 1088.0,900.3 1095.5,928.4 1103.1,956.6 1110.6,982.3 1118.1,1002.0 1125.7,1015.7 1133.2,1026.8 1140.8,1033.9 1148.3,1040.9 1155.8,1046.7 1163.4,1052.1 1170.9,1053.6 1178.4,1057.5 1186.0,1060.0 1193.5,1063.5 1201.0,1062.8 1208.6,1063.0 1216.1,1062.4 1223.7,1066.9 1231.2,1067.3 1238.7,1067.0 1246.3,1065.4 1253.8,1066.1 1261.3,1068.1 1268.9,1068.7 1276.4,1070.1 1283.9,1072.9 1291.5,1074.1 1299.0,1075.5 1306.5,1075.5 1314.1,1077.6 1321.6,1077.6 1329.2,1078.9 1336.7,1077.9 1344.2,1078.2 1351.8,1076.3 1359.3,1076.3 1366.8,1074.8 1374.4,1075.3 1381.9,1075.7 1389.4,1077.9 1397.0,1077.2 1404.5,1077.2 1412.0,1077.0 1419.6,1079.8 1427.1,1076.9 1434.7,1076.5 1442.2,1076.8 1449.7,1078.3 1457.3,1077.7 1464.8,1079.3 1472.3,1079.3 1479.9,1081.5 1487.4,1081.8 1494.9,1081.5 1502.5,1080.7 1510.0,1082.5 1517.5,1081.8 1525.1,1083.8 1532.6,1082.8 1540.2,1082.7 1547.7,1082.5 1555.2,1084.2 1562.8,1084.1 1570.3,1085.0 1577.8,1085.1 1585.4,1084.3 1592.9,1083.1 1600.4,1083.7 1608.0,1081.9 1615.5,1082.9 1623.0,1081.7 1630.6,1082.0 1638.1,1081.0 1645.7,1081.1 1653.2,1080.2 1660.7,1080.4 1668.3,1080.0 1675.8,1081.2 1683.3,1080.8 1690.9,1082.2 1698.4,1081.1 1705.9,1082.1 1713.5,1082.6 1721.0,1084.5 1728.5,1085.0 1736.1,1086.3 1743.6,1085.4 1751.2,1085.9 1758.7,1086.3 1766.2,1086.4 1773.8,1085.6 1781.3,1085.4 1788.8,1085.2 1796.4,1085.9 1803.9,1085.8 1811.4,1086.4 1819.0,1085.4 1826.5,1085.5 1834.1,1086.0 1841.6,1087.1 1849.1,1086.7 1856.7,1087.1 1864.2,1086.3 1871.7,1085.7 1879.3,1086.1 1886.8,1087.0 1894.3,1085.5 1901.9,1086.6 1909.4,1085.1 1916.9,1085.7 1924.5,1084.2 1932.0,1084.0 1939.6,1082.5 1947.1,1084.3 1954.6,1083.3 1962.2,1086.5 1969.7,1086.2 1977.2,1086.9 1984.8,1085.2 1992.3,1086.2 1999.8,1085.3 2007.4,1087.3 2014.9,1086.9 2022.4,1087.9 2030.0,1086.9 2037.5,1087.4 2045.1,1086.5 2052.6,1087.0 2060.1,1086.7 2067.7,1087.9 2075.2,1087.6 2082.7,1088.3 2090.3,1087.0 2097.8,1087.6 2105.3,1087.2 2112.9,1090.3 2118.5,1089.0" fill="none" stroke="#b3b3b3" stroke-width="27.5" stroke-linejoin="round" stroke-linecap="butt"/>
<polyline points="264.5,1391.4 266.6,1391.2 274.1,1388.5 281.7,1405.0 289.2,1397.7 296.7,1393.2 304.3,1395.1 311.8,1397.2 319.4,1380.1 326.9,1400.5 334.4,1391.1 342.0,1396.0 349.5,1392.3 357.0,1393.8 364.6,1397.9 372.1,1389.1 379.6,1387.2 387.2,1397.6 394.7,1405.7 402.2,1398.7 409.8,1398.1 417.3,1405.5 424.9,1412.8 432.4,1407.2 439.9,1414.7 447.5,1408.0 455.0,1404.2 462.5,1401.6 470.1,1401.0 477.6,1414.7 485.1,1394.9 492.7,1409.5 500.2,1409.3 507.7,1404.2 515.3,1396.8 522.8,1402.8 530.4,1408.7 537.9,1408.1 545.4,1410.9 553.0,1400.1 560.5,1406.7 568.0,1407.7 575.6,1406.8 583.1,1402.6 590.6,1402.9 598.2,1402.6 605.7,1412.8 613.2,1406.5 620.8,1408.7 628.3,1410.6 635.9,1416.7 643.4,1409.4 650.9,1405.9 658.5,1412.8 666.0,1410.6 673.5,1408.7 681.1,1408.9 688.6,777.6 696.1,1415.0 703.7,1407.5 711.2,775.0 718.8,775.0 726.3,1415.0 733.8,778.3 741.4,779.0 748.9,774.2 756.4,777.0 764.0,777.0 771.5,1415.0 779.0,776.3 786.6,777.5 794.1,777.3 801.6,1415.7 809.2,775.0 816.7,773.8 824.3,1415.7 831.8,1412.2 839.3,774.9 846.9,1409.8 854.4,773.2 861.9,1410.8 869.5,1401.0 877.0,1400.0 884.5,1399.0 892.1,1397.5 899.6,1396.0 907.1,1404.0 914.7,775.3 922.2,778.6 929.8,791.0 937.3,783.2 944.8,786.8 952.4,783.2 959.9,784.6 967.4,785.9 975.0,786.8 982.5,785.0 990.0,799.2 997.6,795.6 1005.1,794.2 1012.6,795.6 1020.2,800.2 1027.7,812.6 1035.3,812.9 1042.8,820.0 1050.3,829.2 1057.9,836.1 1065.4,851.7 1072.9,867.1 1080.5,886.9 1088.0,911.3 1095.5,935.6 1103.1,961.7 1110.6,984.7 1118.1,1002.9 1125.7,1016.9 1133.2,1028.6 1140.8,1036.7 1148.3,1041.0 1155.8,1037.9 1163.4,1047.4 1170.9,1051.1 1178.4,1050.7 1186.0,1050.3 1193.5,1055.9 1201.0,1054.4 1208.6,1057.3 1216.1,1059.6 1223.7,1058.5 1231.2,1057.7 1238.7,1062.4 1246.3,1065.1 1253.8,1064.6 1261.3,1066.4 1268.9,1062.2 1276.4,1057.5 1283.9,1062.7 1291.5,1067.8 1299.0,1066.8 1306.5,1069.6 1314.1,1068.2 1321.6,1071.1 1329.2,1068.4 1336.7,1072.5 1344.2,1075.9 1351.8,1077.0 1359.3,1077.5 1366.8,1076.5 1374.4,1075.6 1381.9,1078.3 1389.4,1078.2 1397.0,1074.3 1404.5,1079.3 1412.0,1078.0 1419.6,1080.5 1427.1,1078.6 1434.7,1080.3 1442.2,1082.2 1449.7,1080.4 1457.3,1078.6 1464.8,1082.1 1472.3,1080.9 1479.9,1084.5 1487.4,1085.2 1494.9,1084.3 1502.5,1084.7 1510.0,1087.8 1517.5,1085.9 1525.1,1082.0 1532.6,1083.7 1540.2,1084.0 1547.7,1081.8 1555.2,1080.0 1562.8,1086.7 1570.3,1084.3 1577.8,1083.1 1585.4,1082.0 1592.9,1083.0 1600.4,1084.1 1608.0,1084.7 1615.5,1084.4 1623.0,1084.0 1630.6,1083.0 1638.1,1082.0 1645.7,1081.4 1653.2,1083.8 1660.7,1082.7 1668.3,1079.0 1675.8,1082.2 1683.3,1084.2 1690.9,1084.4 1698.4,1084.7 1705.9,1084.1 1713.5,1081.6 1721.0,1079.1 1728.5,1082.1 1736.1,1083.5 1743.6,1081.9 1751.2,1083.8 1758.7,1084.9 1766.2,1085.2 1773.8,1085.4 1781.3,1085.7 1788.8,1086.1 1796.4,1085.4 1803.9,1083.1 1811.4,1081.5 1819.0,1083.6 1826.5,1085.3 1834.1,1083.0 1841.6,1081.2 1849.1,1085.0 1856.7,1084.2 1864.2,1085.0 1871.7,1086.2 1879.3,1084.5 1886.8,1083.5 1894.3,1084.8 1901.9,1086.2 1909.4,1086.4 1916.9,1084.9 1924.5,1084.8 1932.0,1087.1 1939.6,1087.6 1947.1,1085.1 1954.6,1083.4 1962.2,1086.9 1969.7,1087.7 1977.2,1086.4 1984.8,1087.8 1992.3,1087.6 1999.8,1086.5 2007.4,1087.5 2014.9,1088.5 2022.4,1089.0 2030.0,1088.0 2037.5,1087.0 2045.1,1087.9 2052.6,1088.5 2060.1,1088.4 2067.7,1088.3 2075.2,1088.3 2082.7,1088.9 2090.3,1088.8 2097.8,1087.2 2105.3,1088.1 2112.9,1088.3 2118.3,1085.0" fill="none" stroke="#4d4d4d" stroke-width="13.8" stroke-linejoin="round" stroke-linecap="butt"/>
<polygon points="266,1386 262.2,1388.4 265,1392.6 260.2,1397 262.5,1399.9 266,1399.9" fill="#4d4d4d"/>
<polyline points="264.5,775.1 266.0,775.1 267.5,775.1 269.1,775.1 270.6,775.1 272.2,775.1 273.7,775.1 275.3,775.2 276.8,775.2 278.3,775.2 279.9,775.2 281.4,775.2 283.0,775.2 284.5,775.2 286.1,775.2 287.6,775.2 289.2,775.2 290.7,775.2 292.2,775.2 293.8,775.2 295.3,775.3 296.9,775.3 298.4,775.3 300.0,775.3 301.5,775.3 303.0,775.3 304.6,775.3 306.1,775.3 307.7,775.3 309.2,775.3 310.8,775.3 312.3,775.3 313.8,775.4 315.4,775.4 316.9,775.4 318.5,775.4 320.0,775.4 321.6,775.4 323.1,775.4 324.6,775.4 326.2,775.4 327.7,775.4 329.3,775.4 330.8,775.5 332.4,775.5 333.9,775.5 335.5,775.5 337.0,775.5 338.5,775.5 340.1,775.5 341.6,775.5 343.2,775.5 344.7,775.5 346.3,775.5 347.8,775.6 349.3,775.6 350.9,775.6 352.4,775.6 354.0,775.6 355.5,775.6 357.1,775.6 358.6,775.6 360.1,775.6 361.7,775.6 363.2,775.6 364.8,775.7 366.3,775.7 367.9,775.7 369.4,775.7 370.9,775.7 372.5,775.7 374.0,775.7 375.6,775.7 377.1,775.7 378.7,775.7 380.2,775.7 381.8,775.8 383.3,775.8 384.8,775.8 386.4,775.8 387.9,775.8 389.5,775.8 391.0,775.8 392.6,775.8 394.1,775.8 395.6,775.8 397.2,775.9 398.7,775.9 400.3,775.9 401.8,775.9 403.4,775.9 404.9,775.9 406.4,775.9 408.0,775.9 409.5,775.9 411.1,776.0 412.6,776.0 414.2,776.0 415.7,776.0 417.2,776.0 418.8,776.0 420.3,776.0 421.9,776.0 423.4,776.0 425.0,776.1 426.5,776.1 428.0,776.1 429.6,776.1 431.1,776.1 432.7,776.1 434.2,776.1 435.8,776.1 437.3,776.1 438.9,776.2 440.4,776.2 441.9,776.2 443.5,776.2 445.0,776.2 446.6,776.2 448.1,776.2 449.7,776.2 451.2,776.2 452.7,776.3 454.3,776.3 455.8,776.3 457.4,776.3 458.9,776.3 460.5,776.3 462.0,776.3 463.5,776.3 465.1,776.4 466.6,776.4 468.2,776.4 469.7,776.4 471.3,776.4 472.8,776.4 474.3,776.4 475.9,776.4 477.4,776.5 479.0,776.5 480.5,776.5 482.1,776.5 483.6,776.5 485.2,776.5 486.7,776.5 488.2,776.5 489.8,776.6 491.3,776.6 492.9,776.6 494.4,776.6 496.0,776.6 497.5,776.6 499.0,776.6 500.6,776.7 502.1,776.7 503.7,776.7 505.2,776.7 506.8,776.7 508.3,776.7 509.8,776.7 511.4,776.8 512.9,776.8 514.5,776.8 516.0,776.8 517.6,776.8 519.1,776.8 520.7,776.8 522.2,776.9 523.7,776.9 525.3,776.9 526.8,776.9 528.4,776.9 529.9,776.9 531.5,776.9 533.0,777.0 534.5,777.0 536.1,777.0 537.6,777.0 539.2,777.0 540.7,777.0 542.3,777.0 543.8,777.1 545.3,777.1 546.9,777.1 548.4,777.1 550.0,777.1 551.5,777.1 553.1,777.2 554.6,777.2 556.1,777.2 557.7,777.2 559.2,777.2 560.8,777.2 562.3,777.3 563.9,777.3 565.4,777.3 567.0,777.3 568.5,777.3 570.0,777.3 571.6,777.4 573.1,777.4 574.7,777.4 576.2,777.4 577.8,777.4 579.3,777.5 580.8,777.5 582.4,777.5 583.9,777.5 585.5,777.5 587.0,777.5 588.6,777.6 590.1,777.6 591.6,777.6 593.2,777.6 594.7,777.6 596.3,777.7 597.8,777.7 599.4,777.7 600.9,777.7 602.4,777.7 604.0,777.8 605.5,777.8 607.1,777.8 608.6,777.8 610.2,777.8 611.7,777.9 613.2,777.9 614.8,777.9 616.3,777.9 617.9,777.9 619.4,778.0 621.0,778.0 622.5,778.0 624.1,778.0 625.6,778.0 627.1,778.1 628.7,778.1 630.2,778.1 631.8,778.1 633.3,778.1 634.9,778.2 636.4,778.2 637.9,778.2 639.5,778.2 641.0,778.3 642.6,778.3 644.1,778.3 645.7,778.3 647.2,778.4 648.7,778.4 650.3,778.4 651.8,778.4 653.4,778.4 654.9,778.5 656.5,778.5 658.0,778.5 659.5,778.5 661.1,778.6 662.6,778.6 664.2,778.6 665.7,778.6 667.3,778.7 668.8,778.7 670.4,778.7 671.9,778.7 673.4,778.8 675.0,778.8 676.5,778.8 678.1,778.9 679.6,778.9 681.2,778.9 682.7,778.9 684.2,779.0 685.8,779.0 687.3,779.0 688.9,779.0 690.4,779.1 692.0,779.1 693.5,779.1 695.0,779.2 696.6,779.2 698.1,779.2 699.7,779.2 701.2,779.3 702.8,779.3 704.3,779.3 705.8,779.4 707.4,779.4 708.9,779.4 710.5,779.5 712.0,779.5 713.6,779.5 715.1,779.6 716.7,779.6 718.2,779.6 719.7,779.7 721.3,779.7 722.8,779.7 724.4,779.8 725.9,779.8 727.5,779.8 729.0,779.9 730.5,779.9 732.1,779.9 733.6,780.0 735.2,780.0 736.7,780.0 738.3,780.1 739.8,780.1 741.3,780.1 742.9,780.2 744.4,780.2 746.0,780.3 747.5,780.3 749.1,780.3 750.6,780.4 752.2,780.4 753.7,780.5 755.2,780.5 756.8,780.5 758.3,780.6 759.9,780.6 761.4,780.7 763.0,780.7 764.5,780.7 766.0,780.8 767.6,780.8 769.1,780.9 770.7,780.9 772.2,781.0 773.8,781.0 775.3,781.0 776.8,781.1 778.4,781.1 779.9,781.2 781.5,781.2 783.0,781.3 784.6,781.3 786.1,781.4 787.6,781.4 789.2,781.5 790.7,781.5 792.3,781.6 793.8,781.6 795.4,781.7 796.9,781.7 798.5,781.8 800.0,781.8 801.5,781.9 803.1,781.9 804.6,782.0 806.2,782.0 807.7,782.1 809.3,782.2 810.8,782.2 812.3,782.3 813.9,782.3 815.4,782.4 817.0,782.4 818.5,782.5 820.1,782.6 821.6,782.6 823.1,782.7 824.7,782.7 826.2,782.8 827.8,782.9 829.3,782.9 830.9,783.0 832.4,783.1 833.9,783.1 835.5,783.2 837.0,783.3 838.6,783.3 840.1,783.4 841.7,783.5 843.2,783.6 844.8,783.6 846.3,783.7 847.8,783.8 849.4,783.8 850.9,783.9 852.5,784.0 854.0,784.1 855.6,784.2 857.1,784.2 858.6,784.3 860.2,784.4 861.7,784.5 863.3,784.6 864.8,784.7 866.4,784.7 867.9,784.8 869.4,784.9 871.0,785.0 872.5,785.1 874.1,785.2 875.6,785.3 877.2,785.4 878.7,785.5 880.2,785.6 881.8,785.7 883.3,785.8 884.9,785.9 886.4,786.0 888.0,786.1 889.5,786.2 891.1,786.3 892.6,786.4 894.1,786.5 895.7,786.6 897.2,786.8 898.8,786.9 900.3,787.0 901.9,787.1 903.4,787.2 904.9,787.4 906.5,787.5 908.0,787.6 909.6,787.7 911.1,787.9 912.7,788.0 914.2,788.1 915.7,788.3 917.3,788.4 918.8,788.6 920.4,788.7 921.9,788.9 923.5,789.0 925.0,789.2 926.5,789.3 928.1,789.5 929.6,789.7 931.2,789.8 932.7,790.0 934.3,790.2 935.8,790.3 937.3,790.5 938.9,790.7 940.4,790.9 942.0,791.1 943.5,791.3 945.1,791.5 946.6,791.7 948.2,791.9 949.7,792.1 951.2,792.3 952.8,792.5 954.3,792.7 955.9,793.0 957.4,793.2 959.0,793.4 960.5,793.7 962.0,793.9 963.6,794.2 965.1,794.4 966.7,794.7 968.2,795.0 969.8,795.3 971.3,795.5 972.8,795.8 974.4,796.1 975.9,796.4 977.5,796.8 979.0,797.1 980.6,797.4 982.1,797.8 983.7,798.1 985.2,798.5 986.7,798.8 988.3,799.2 989.8,799.6 991.4,800.0 992.9,800.4 994.5,800.8 996.0,801.3 997.5,801.7 999.1,802.2 1000.6,802.6 1002.2,803.1 1003.7,803.6 1005.3,804.2 1006.8,804.7 1008.3,805.3 1009.9,805.8 1011.4,806.4 1013.0,807.0 1014.5,807.7 1016.1,808.3 1017.6,809.0 1019.1,809.7 1020.7,810.4 1022.2,811.2 1023.8,812.0 1025.3,812.8 1026.9,813.7 1028.4,814.5 1029.9,815.5 1031.5,816.4 1033.0,817.4 1034.6,818.5 1036.1,819.5 1037.7,820.7 1039.2,821.9 1040.8,823.1 1042.3,824.4 1043.8,825.7 1045.4,827.2 1046.9,828.7 1048.5,830.2 1050.0,831.9 1051.6,833.6 1053.1,835.4 1054.6,837.3 1056.2,839.3 1057.7,841.5 1059.3,843.7 1060.8,846.0 1062.4,848.5 1063.9,851.2 1065.4,853.9 1067.0,856.8 1068.5,859.9 1070.1,863.2 1071.6,866.6 1073.2,870.2 1074.7,874.0 1076.2,878.0 1077.8,882.2 1079.3,886.6 1080.9,891.1 1082.4,895.9 1084.0,900.8 1085.5,905.9 1087.1,911.1 1088.6,916.4 1090.1,921.9 1091.7,927.4 1093.2,932.9 1094.8,938.4 1096.3,943.9 1097.9,949.3 1099.4,954.7 1100.9,959.9 1102.5,965.0 1104.0,969.9 1105.6,974.7 1107.1,979.2 1108.7,983.6 1110.2,987.8 1111.7,991.8 1113.3,995.6 1114.8,999.2 1116.4,1002.7 1117.9,1005.9 1119.5,1009.0 1121.0,1011.9 1122.6,1014.7 1124.1,1017.3 1125.6,1019.8 1127.2,1022.2 1128.7,1024.4 1130.3,1026.6 1131.8,1028.6 1133.4,1030.5 1134.9,1032.3 1136.4,1034.0 1138.0,1035.7 1139.5,1037.2 1141.1,1038.7 1142.6,1040.2 1144.2,1041.5 1145.7,1042.8 1147.2,1044.1 1148.8,1045.2 1150.3,1046.4 1151.9,1047.5 1153.4,1048.5 1155.0,1049.5 1156.5,1050.5 1158.0,1051.4 1159.6,1052.3 1161.1,1053.1 1162.7,1053.9 1164.2,1054.7 1165.8,1055.5 1167.3,1056.2 1168.8,1056.9 1170.4,1057.6 1171.9,1058.3 1173.5,1058.9 1175.0,1059.5 1176.6,1060.1 1178.1,1060.7 1179.7,1061.2 1181.2,1061.8 1182.7,1062.3 1184.3,1062.8 1185.8,1063.3 1187.4,1063.8 1188.9,1064.2 1190.5,1064.7 1192.0,1065.1 1193.5,1065.5 1195.1,1065.9 1196.6,1066.3 1198.2,1066.7 1199.7,1067.1 1201.3,1067.5 1202.8,1067.8 1204.3,1068.2 1205.9,1068.5 1207.4,1068.9 1209.0,1069.2 1210.5,1069.5 1212.1,1069.8 1213.6,1070.1 1215.2,1070.4 1216.7,1070.7 1218.2,1071.0 1219.8,1071.2 1221.3,1071.5 1222.9,1071.8 1224.4,1072.0 1226.0,1072.3 1227.5,1072.5 1229.0,1072.7 1230.6,1073.0 1232.1,1073.2 1233.7,1073.4 1235.2,1073.6 1236.8,1073.9 1238.3,1074.1 1239.8,1074.3 1241.4,1074.5 1242.9,1074.7 1244.5,1074.9 1246.0,1075.1 1247.6,1075.2 1249.1,1075.4 1250.6,1075.6 1252.2,1075.8 1253.7,1076.0 1255.3,1076.1 1256.8,1076.3 1258.4,1076.5 1259.9,1076.6 1261.4,1076.8 1263.0,1076.9 1264.5,1077.1 1266.1,1077.2 1267.6,1077.4 1269.2,1077.5 1270.7,1077.7 1272.3,1077.8 1273.8,1077.9 1275.3,1078.1 1276.9,1078.2 1278.4,1078.3 1280.0,1078.5 1281.5,1078.6 1283.1,1078.7 1284.6,1078.8 1286.1,1079.0 1287.7,1079.1 1289.2,1079.2 1290.8,1079.3 1292.3,1079.4 1293.9,1079.5 1295.4,1079.6 1296.9,1079.7 1298.5,1079.9 1300.0,1080.0 1301.6,1080.1 1303.1,1080.2 1304.7,1080.3 1306.2,1080.4 1307.8,1080.5 1309.3,1080.6 1310.8,1080.7 1312.4,1080.7 1313.9,1080.8 1315.5,1080.9 1317.0,1081.0 1318.6,1081.1 1320.1,1081.2 1321.6,1081.3 1323.2,1081.4 1324.7,1081.5 1326.3,1081.5 1327.8,1081.6 1329.4,1081.7 1330.9,1081.8 1332.4,1081.9 1334.0,1081.9 1335.5,1082.0 1337.1,1082.1 1338.6,1082.2 1340.2,1082.2 1341.7,1082.3 1343.2,1082.4 1344.8,1082.5 1346.3,1082.5 1347.9,1082.6 1349.4,1082.7 1351.0,1082.7 1352.5,1082.8 1354.1,1082.9 1355.6,1082.9 1357.1,1083.0 1358.7,1083.1 1360.2,1083.1 1361.8,1083.2 1363.3,1083.3 1364.9,1083.3 1366.4,1083.4 1367.9,1083.4 1369.5,1083.5 1371.0,1083.6 1372.6,1083.6 1374.1,1083.7 1375.7,1083.7 1377.2,1083.8 1378.7,1083.8 1380.3,1083.9 1381.8,1083.9 1383.4,1084.0 1384.9,1084.1 1386.5,1084.1 1388.0,1084.2 1389.5,1084.2 1391.1,1084.3 1392.6,1084.3 1394.2,1084.4 1395.7,1084.4 1397.3,1084.5 1398.8,1084.5 1400.3,1084.6 1401.9,1084.6 1403.4,1084.7 1405.0,1084.7 1406.5,1084.7 1408.1,1084.8 1409.6,1084.8 1411.2,1084.9 1412.7,1084.9 1414.2,1085.0 1415.8,1085.0 1417.3,1085.1 1418.9,1085.1 1420.4,1085.1 1422.0,1085.2 1423.5,1085.2 1425.0,1085.3 1426.6,1085.3 1428.1,1085.4 1429.7,1085.4 1431.2,1085.4 1432.8,1085.5 1434.3,1085.5 1435.8,1085.6 1437.4,1085.6 1438.9,1085.6 1440.5,1085.7 1442.0,1085.7 1443.6,1085.7 1445.1,1085.8 1446.7,1085.8 1448.2,1085.9 1449.7,1085.9 1451.3,1085.9 1452.8,1086.0 1454.4,1086.0 1455.9,1086.0 1457.5,1086.1 1459.0,1086.1 1460.5,1086.1 1462.1,1086.2 1463.6,1086.2 1465.2,1086.2 1466.7,1086.3 1468.3,1086.3 1469.8,1086.3 1471.3,1086.4 1472.9,1086.4 1474.4,1086.4 1476.0,1086.5 1477.5,1086.5 1479.1,1086.5 1480.6,1086.5 1482.1,1086.6 1483.7,1086.6 1485.2,1086.6 1486.8,1086.7 1488.3,1086.7 1489.9,1086.7 1491.4,1086.8 1492.9,1086.8 1494.5,1086.8 1496.0,1086.8 1497.6,1086.9 1499.1,1086.9 1500.7,1086.9 1502.2,1087.0 1503.8,1087.0 1505.3,1087.0 1506.8,1087.0 1508.4,1087.1 1509.9,1087.1 1511.5,1087.1 1513.0,1087.1 1514.6,1087.2 1516.1,1087.2 1517.6,1087.2 1519.2,1087.2 1520.7,1087.3 1522.3,1087.3 1523.8,1087.3 1525.4,1087.3 1526.9,1087.4 1528.4,1087.4 1530.0,1087.4 1531.5,1087.4 1533.1,1087.5 1534.6,1087.5 1536.2,1087.5 1537.7,1087.5 1539.2,1087.6 1540.8,1087.6 1542.3,1087.6 1543.9,1087.6 1545.4,1087.6 1547.0,1087.7 1548.5,1087.7 1550.1,1087.7 1551.6,1087.7 1553.1,1087.8 1554.7,1087.8 1556.2,1087.8 1557.8,1087.8 1559.3,1087.8 1560.9,1087.9 1562.4,1087.9 1563.9,1087.9 1565.5,1087.9 1567.0,1087.9 1568.6,1088.0 1570.1,1088.0 1571.7,1088.0 1573.2,1088.0 1574.7,1088.0 1576.3,1088.1 1577.8,1088.1 1579.4,1088.1 1580.9,1088.1 1582.5,1088.1 1584.0,1088.2 1585.6,1088.2 1587.1,1088.2 1588.6,1088.2 1590.2,1088.2 1591.7,1088.3 1593.3,1088.3 1594.8,1088.3 1596.4,1088.3 1597.9,1088.3 1599.4,1088.3 1601.0,1088.4 1602.5,1088.4 1604.1,1088.4 1605.6,1088.4 1607.2,1088.4 1608.7,1088.5 1610.2,1088.5 1611.8,1088.5 1613.3,1088.5 1614.9,1088.5 1616.4,1088.5 1618.0,1088.6 1619.5,1088.6 1621.0,1088.6 1622.6,1088.6 1624.1,1088.6 1625.7,1088.6 1627.2,1088.7 1628.8,1088.7 1630.3,1088.7 1631.9,1088.7 1633.4,1088.7 1634.9,1088.7 1636.5,1088.8 1638.0,1088.8 1639.6,1088.8 1641.1,1088.8 1642.7,1088.8 1644.2,1088.8 1645.7,1088.8 1647.3,1088.9 1648.8,1088.9 1650.4,1088.9 1651.9,1088.9 1653.5,1088.9 1655.0,1088.9 1656.5,1088.9 1658.1,1089.0 1659.6,1089.0 1661.2,1089.0 1662.7,1089.0 1664.3,1089.0 1665.8,1089.0 1667.3,1089.0 1668.9,1089.1 1670.4,1089.1 1672.0,1089.1 1673.5,1089.1 1675.1,1089.1 1676.6,1089.1 1678.1,1089.1 1679.7,1089.2 1681.2,1089.2 1682.8,1089.2 1684.3,1089.2 1685.9,1089.2 1687.4,1089.2 1689.0,1089.2 1690.5,1089.3 1692.0,1089.3 1693.6,1089.3 1695.1,1089.3 1696.7,1089.3 1698.2,1089.3 1699.8,1089.3 1701.3,1089.3 1702.8,1089.4 1704.4,1089.4 1705.9,1089.4 1707.5,1089.4 1709.0,1089.4 1710.6,1089.4 1712.1,1089.4 1713.6,1089.4 1715.2,1089.5 1716.7,1089.5 1718.3,1089.5 1719.8,1089.5 1721.4,1089.5 1722.9,1089.5 1724.4,1089.5 1726.0,1089.5 1727.5,1089.5 1729.1,1089.6 1730.6,1089.6 1732.2,1089.6 1733.7,1089.6 1735.3,1089.6 1736.8,1089.6 1738.3,1089.6 1739.9,1089.6 1741.4,1089.6 1743.0,1089.7 1744.5,1089.7 1746.1,1089.7 1747.6,1089.7 1749.1,1089.7 1750.7,1089.7 1752.2,1089.7 1753.8,1089.7 1755.3,1089.7 1756.9,1089.8 1758.4,1089.8 1759.9,1089.8 1761.5,1089.8 1763.0,1089.8 1764.6,1089.8 1766.1,1089.8 1767.7,1089.8 1769.2,1089.8 1770.8,1089.9 1772.3,1089.9 1773.8,1089.9 1775.4,1089.9 1776.9,1089.9 1778.5,1089.9 1780.0,1089.9 1781.6,1089.9 1783.1,1089.9 1784.6,1089.9 1786.2,1090.0 1787.7,1090.0 1789.3,1090.0 1790.8,1090.0 1792.4,1090.0 1793.9,1090.0 1795.4,1090.0 1797.0,1090.0 1798.5,1090.0 1800.1,1090.0 1801.6,1090.0 1803.2,1090.1 1804.7,1090.1 1806.2,1090.1 1807.8,1090.1 1809.3,1090.1 1810.9,1090.1 1812.4,1090.1 1814.0,1090.1 1815.5,1090.1 1817.1,1090.1 1818.6,1090.1 1820.1,1090.2 1821.7,1090.2 1823.2,1090.2 1824.8,1090.2 1826.3,1090.2 1827.9,1090.2 1829.4,1090.2 1830.9,1090.2 1832.5,1090.2 1834.0,1090.2 1835.6,1090.2 1837.1,1090.3 1838.7,1090.3 1840.2,1090.3 1841.7,1090.3 1843.3,1090.3 1844.8,1090.3 1846.4,1090.3 1847.9,1090.3 1849.5,1090.3 1851.0,1090.3 1852.5,1090.3 1854.1,1090.3 1855.6,1090.4 1857.2,1090.4 1858.7,1090.4 1860.3,1090.4 1861.8,1090.4 1863.4,1090.4 1864.9,1090.4 1866.4,1090.4 1868.0,1090.4 1869.5,1090.4 1871.1,1090.4 1872.6,1090.4 1874.2,1090.4 1875.7,1090.5 1877.2,1090.5 1878.8,1090.5 1880.3,1090.5 1881.9,1090.5 1883.4,1090.5 1885.0,1090.5 1886.5,1090.5 1888.0,1090.5 1889.6,1090.5 1891.1,1090.5 1892.7,1090.5 1894.2,1090.5 1895.8,1090.6 1897.3,1090.6 1898.8,1090.6 1900.4,1090.6 1901.9,1090.6 1903.5,1090.6 1905.0,1090.6 1906.6,1090.6 1908.1,1090.6 1909.6,1090.6 1911.2,1090.6 1912.7,1090.6 1914.3,1090.6 1915.8,1090.6 1917.4,1090.7 1918.9,1090.7 1920.5,1090.7 1922.0,1090.7 1923.5,1090.7 1925.1,1090.7 1926.6,1090.7 1928.2,1090.7 1929.7,1090.7 1931.3,1090.7 1932.8,1090.7 1934.3,1090.7 1935.9,1090.7 1937.4,1090.7 1939.0,1090.7 1940.5,1090.8 1942.1,1090.8 1943.6,1090.8 1945.1,1090.8 1946.7,1090.8 1948.2,1090.8 1949.8,1090.8 1951.3,1090.8 1952.9,1090.8 1954.4,1090.8 1955.9,1090.8 1957.5,1090.8 1959.0,1090.8 1960.6,1090.8 1962.1,1090.8 1963.7,1090.9 1965.2,1090.9 1966.8,1090.9 1968.3,1090.9 1969.8,1090.9 1971.4,1090.9 1972.9,1090.9 1974.5,1090.9 1976.0,1090.9 1977.6,1090.9 1979.1,1090.9 1980.6,1090.9 1982.2,1090.9 1983.7,1090.9 1985.3,1090.9 1986.8,1090.9 1988.4,1091.0 1989.9,1091.0 1991.4,1091.0 1993.0,1091.0 1994.5,1091.0 1996.1,1091.0 1997.6,1091.0 1999.2,1091.0 2000.7,1091.0 2002.2,1091.0 2003.8,1091.0 2005.3,1091.0 2006.9,1091.0 2008.4,1091.0 2010.0,1091.0 2011.5,1091.0 2013.1,1091.0 2014.6,1091.0 2016.1,1091.1 2017.7,1091.1 2019.2,1091.1 2020.8,1091.1 2022.3,1091.1 2023.9,1091.1 2025.4,1091.1 2026.9,1091.1 2028.5,1091.1 2030.0,1091.1 2031.6,1091.1 2033.1,1091.1 2034.7,1091.1 2036.2,1091.1 2037.7,1091.1 2039.3,1091.1 2040.8,1091.1 2042.4,1091.1 2043.9,1091.2 2045.5,1091.2 2047.0,1091.2 2048.6,1091.2 2050.1,1091.2 2051.6,1091.2 2053.2,1091.2 2054.7,1091.2 2056.3,1091.2 2057.8,1091.2 2059.4,1091.2 2060.9,1091.2 2062.4,1091.2 2064.0,1091.2 2065.5,1091.2 2067.1,1091.2 2068.6,1091.2 2070.2,1091.2 2071.7,1091.2 2073.2,1091.3 2074.8,1091.3 2076.3,1091.3 2077.9,1091.3 2079.4,1091.3 2081.0,1091.3 2082.5,1091.3 2084.0,1091.3 2085.6,1091.3 2087.1,1091.3 2088.7,1091.3 2090.2,1091.3 2091.8,1091.3 2093.3,1091.3 2094.9,1091.3 2096.4,1091.3 2097.9,1091.3 2099.5,1091.3 2101.0,1091.3 2102.6,1091.3 2104.1,1091.3 2105.7,1091.4 2107.2,1091.4 2108.7,1091.4 2110.3,1091.4 2111.8,1091.4 2113.4,1091.4 2114.9,1091.4 2116.5,1091.4 2118.0,1091.4" fill="none" stroke="#000" stroke-width="11" stroke-linejoin="round" stroke-linecap="butt" stroke-dasharray="8.5 6.875" stroke-dashoffset="-1.1"/>
</g>
<g id="xticklabels" class="t" font-size="68.00" text-anchor="middle">
<text x="265.0" y="1518">1</text>
<text x="573.7" y="1518">1.5</text>
<text x="882.3" y="1518">2</text>
<text x="1191.0" y="1518">2.5</text>
<text x="1499.7" y="1518">3</text>
<text x="1808.3" y="1518">3.5</text>
<text x="2117.0" y="1518">4</text>
</g>
<g id="yticklabels-phase" font-size="68.00">
<text class="t" x="242" y="913" text-anchor="end">2</text>
<text class="t" x="242" y="1118" text-anchor="end">0</text>
<text class="s" x="173.7" y="1321.4" font-size="54" stroke="#262626" stroke-width="1.1">−<tspan x="204.7" y="1323" font-size="69.5" stroke="none">2</tspan></text>
</g>
<g id="yticklabels-mag">
<text class="t" font-size="68.00" x="147.2" y="207">10<tspan font-size="55" x="215.1" y="176.4">0</tspan></text>
<clipPath id="nofoot" clipPathUnits="userSpaceOnUse"><rect x="90" y="330" width="170" height="56.3"/><rect x="90" y="386" width="127" height="50"/><rect x="228.45" y="386" width="7.45" height="8"/></clipPath>
<text clip-path="url(#nofoot)" class="t" font-size="68.00" x="120.3" y="422">10<tspan class="s" font-size="46" x="189.2" y="390.6" stroke="#262626" stroke-width="1.2">−</tspan><tspan class="s" font-size="58" x="214" y="391.9" stroke="#262626" stroke-width="0.9">1</tspan></text>
<text class="t" font-size="68.00" x="120.3" y="634.4">10<tspan class="s" font-size="46" x="189.2" y="602.4" stroke="#262626" stroke-width="1.2">−</tspan><tspan class="s" font-size="57" x="214.2" y="603" stroke="#262626" stroke-width="0.9">2</tspan></text>
</g>
<g id="axislabels" class="t" font-size="72.25">
<text x="962.5" y="1608">Frequency (Hz)</text>
<text transform="translate(142,1259.5) rotate(-90)">Phase (rad)</text>
<text transform="translate(89,677) rotate(-90)">Magnitude (m/s<tspan font-size="57.8" dy="-34">2</tspan><tspan dy="34">/N)</tspan></text>
</g>
<g id="legend">
<rect x="1549.5" y="76.5" width="526" height="273" fill="#fff" stroke="#262626" stroke-width="3"/>
<line x1="1564" y1="126.5" x2="1719" y2="126.5" stroke="#b3b3b3" stroke-width="26.8"/>
<line x1="1564" y1="213" x2="1719" y2="213" stroke="#4d4d4d" stroke-width="13.8"/>
<line x1="1564" y1="299.4" x2="1712" y2="299.4" stroke="#000" stroke-width="10.7" stroke-dasharray="8.5 6.8"/>
<g class="lg" font-size="72.25">
<text x="1728.5" y="153.5">Isol. SDOF</text>
<text x="1729" y="240.4">Eq.9</text>
<text x="1728.5" y="327">Eq.9 fitted</text>
</g></g>
</svg></body></html>
